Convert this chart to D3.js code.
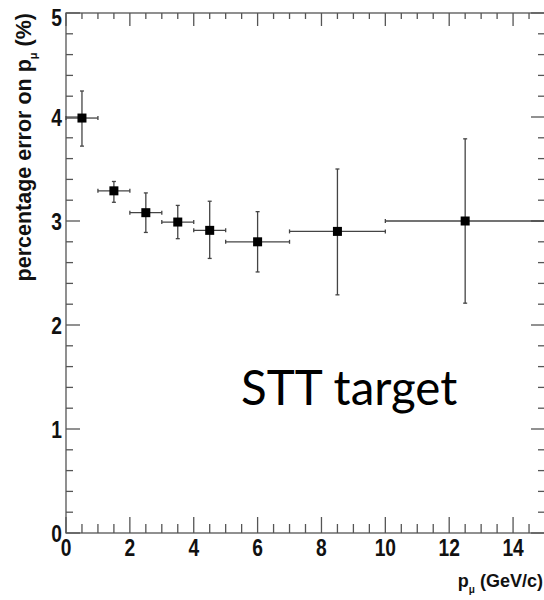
<!DOCTYPE html>
<html>
<head>
<meta charset="utf-8">
<script src="https://cdn.jsdelivr.net/npm/d3@7"></script>
<style>
  html, body { margin: 0; padding: 0; background: #fff; }
  svg { display: block; }
  .tick-label { font-family: "Liberation Sans", Arial, sans-serif; font-weight: bold; font-size: 24px; fill: #111; }
</style>
</head>
<body>
<script>
// ---- data ----
const binLow    = [0, 1, 2, 3, 4, 5, 7, 10];
const binHigh   = [1, 2, 3, 4, 5, 7, 10, 15];
const binCenter = [0.5, 1.5, 2.5, 3.5, 4.5, 6, 8.5, 12.5];
const errorPct  = [3.99, 3.29, 3.08, 2.99, 2.91, 2.80, 2.90, 3.00];
const errLow    = [3.72, 3.18, 2.89, 2.83, 2.64, 2.51, 2.29, 2.21];
const errHigh   = [4.25, 3.38, 3.27, 3.15, 3.19, 3.09, 3.50, 3.79];
const xTickLabels = [0, 2, 4, 6, 8, 10, 12, 14];
const yTickLabels = [0, 1, 2, 3, 4, 5];
const annotation = "STT target";

const W = 544, H = 600;
const svg = d3.select("body").append("svg").attr("width", W).attr("height", H);

const x = d3.scaleLinear().domain([0, 15]).range([66, 545]);
const y = d3.scaleLinear().domain([0, 5]).range([533, 13]);

const axisColor = "#555";
const g = svg.append("g").attr("stroke", axisColor).attr("stroke-width", 1.3).attr("fill", "none");

// frame
g.append("rect").attr("x", x(0)).attr("y", y(5)).attr("width", x(15) - x(0)).attr("height", y(0) - y(5));

// x ticks (bottom and top)
const xMinor = d3.range(0, 15.01, 0.5);
xMinor.forEach(v => {
  const major = Math.abs(v / 2 - Math.round(v / 2)) < 1e-6;
  const lenB = major ? 16 : 9, lenT = major ? 13 : 6;
  g.append("line").attr("x1", x(v)).attr("x2", x(v)).attr("y1", y(0)).attr("y2", y(0) - lenB);
  g.append("line").attr("x1", x(v)).attr("x2", x(v)).attr("y1", y(5)).attr("y2", y(5) + lenT);
});
// y ticks (left and right)
const yMinor = d3.range(0, 5.001, 0.2);
yMinor.forEach(v => {
  const major = Math.abs(v - Math.round(v)) < 1e-6;
  const len = major ? 14 : 7;
  g.append("line").attr("x1", x(0)).attr("x2", x(0) + len).attr("y1", y(v)).attr("y2", y(v));
  g.append("line").attr("x1", x(15)).attr("x2", x(15) - len).attr("y1", y(v)).attr("y2", y(v));
});

// tick labels (condensed bold)
svg.append("g").selectAll("text").data(yTickLabels).join("text")
  .attr("class", "tick-label")
  .attr("transform", d => `translate(62,${Math.max(y(d) + 1, 18)}) scale(0.8,1)`)
  .attr("text-anchor", "end").attr("dominant-baseline", "central")
  .text(d => d);
svg.append("g").selectAll("text").data(xTickLabels).join("text")
  .attr("class", "tick-label")
  .attr("transform", d => `translate(${x(d)},556) scale(0.8,1)`)
  .attr("text-anchor", "middle")
  .text(d => d);

// axis titles
const xt = svg.append("text")
  .attr("x", 543).attr("y", 587).attr("text-anchor", "end")
  .attr("font-family", "Liberation Sans, Arial, sans-serif").attr("font-weight", "bold")
  .attr("font-size", 18).attr("fill", "#111");
xt.append("tspan").text("p");
xt.append("tspan").attr("dy", 6).attr("font-size", 10).text("\u03bc");
xt.append("tspan").attr("dy", -6).text(" (GeV/c)");

const yt = svg.append("text")
  .attr("transform", "translate(31,13) rotate(-90)")
  .attr("text-anchor", "end")
  .attr("font-family", "Liberation Sans, Arial, sans-serif").attr("font-weight", "bold")
  .attr("font-size", 21.5).attr("fill", "#111");
yt.append("tspan").text("percentage error on p");
yt.append("tspan").attr("dy", 6).attr("font-size", 11).text("\u03bc");
yt.append("tspan").attr("dy", -6).text(" (%)");

// data: error bars
const eb = svg.append("g").attr("stroke", "#444").attr("stroke-width", 1.3);
const cap = 2;
errorPct.forEach((v, i) => {
  const cx = x(binCenter[i]), cy = y(v);
  eb.append("line").attr("x1", x(binLow[i])).attr("x2", x(binHigh[i])).attr("y1", cy).attr("y2", cy);
  eb.append("line").attr("x1", cx).attr("x2", cx).attr("y1", y(errLow[i])).attr("y2", y(errHigh[i]));
  eb.append("line").attr("x1", cx - cap).attr("x2", cx + cap).attr("y1", y(errLow[i])).attr("y2", y(errLow[i]));
  eb.append("line").attr("x1", cx - cap).attr("x2", cx + cap).attr("y1", y(errHigh[i])).attr("y2", y(errHigh[i]));
  eb.append("line").attr("x1", x(binLow[i])).attr("x2", x(binLow[i])).attr("y1", cy - cap).attr("y2", cy + cap);
  eb.append("line").attr("x1", x(binHigh[i])).attr("x2", x(binHigh[i])).attr("y1", cy - cap).attr("y2", cy + cap);
});
// markers
const ms = 9;
svg.append("g").selectAll("rect").data(errorPct).join("rect")
  .attr("x", (d, i) => x(binCenter[i]) - ms / 2)
  .attr("y", d => y(d) - ms / 2)
  .attr("width", ms).attr("height", ms)
  .attr("fill", "#000");

// annotation
svg.append("text")
  .attr("x", 241).attr("y", 405)
  .attr("font-family", "Lato, 'Open Sans', sans-serif")
  .attr("font-size", 47.5).attr("fill", "#000")
  .text(annotation);
</script>
</body>
</html>
